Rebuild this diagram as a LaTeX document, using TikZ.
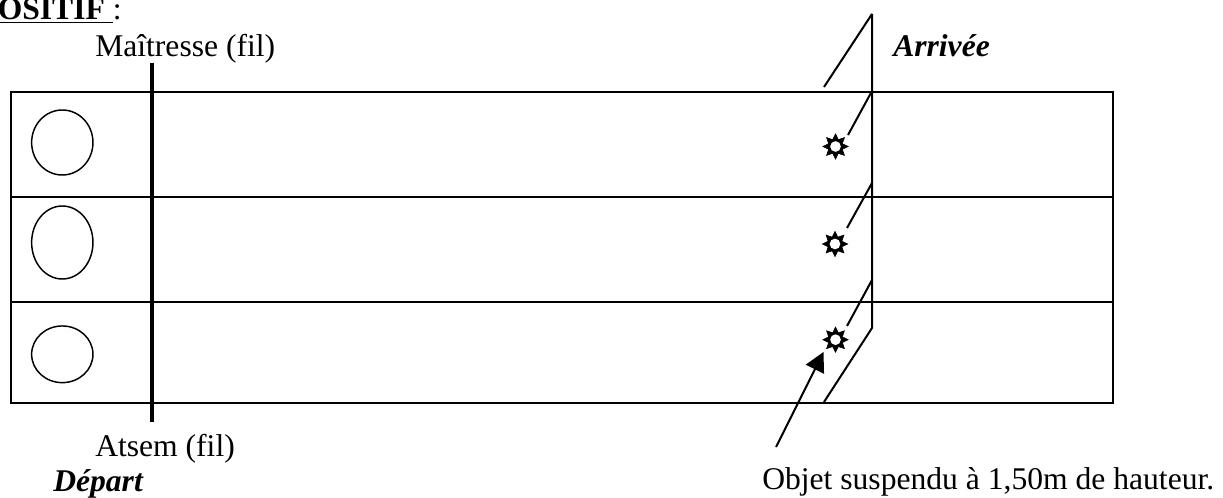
\documentclass[tikz,border=0pt]{standalone}
\usepackage{fontspec}
\setmainfont{Liberation Serif}
\usetikzlibrary{shapes.geometric, arrows.meta}

\begin{document}
\begin{tikzpicture}[
  x=0.75pt, y=-0.75pt,
  every node/.style={font=\fontsize{23.7}{28}\selectfont, inner sep=0pt},
  lane/.style={draw, line width=1.5pt, minimum width=826.5pt},
  plot/.style={draw, ellipse, line width=1.1pt, minimum width=46pt},
  sunmark/.style={star, star points=8, star point ratio=1.7, draw, line width=0.4pt, fill=black, minimum size=19pt},
  sunhole/.style={circle, fill=white, minimum size=8pt},
  wire/.style={line width=1.5pt},
  fil/.style={line width=2.8pt},
  pointer/.style={line width=1.5pt, -{Triangle[length=14.5pt, width=15pt]}}
]
\useasboundingbox (0,0) rectangle (1223,498);

% lanes
\node[lane, minimum height=78.75pt] (laneA) at (562,144.2) {};
\node[lane, minimum height=78.75pt] (laneB) at (562,249.2) {};
\node[lane, minimum height=75.75pt] (laneC) at (562,352.2) {};

% start circles
\node[plot, minimum height=48.75pt] (plotA) at (62.3,142.5) {};
\node[plot, minimum height=54.75pt] (plotB) at (62.3,242.5) {};
\node[plot, minimum height=42.5pt] (plotC) at (62.3,354.3) {};

% hanging objects
\foreach \name/\x/\y in {sunA/835.5/146.5, sunB/835/244, sunC/835.5/339.7} {
  \node[sunmark] (\name) at (\x,\y) {};
  \node[sunhole] at (\name) {};
}

% wires
\coordinate (filTop) at (152,63);
\coordinate (filBot) at (152,422);
\draw[fil] (filTop) -- (filBot);

\coordinate (postTop) at (872,14);
\coordinate (postBot) at (872,328);
\coordinate (gateA) at (824,87);
\coordinate (gateB) at (824,402);
\draw[wire] (postTop) -- (postBot) -- (gateB);
\draw[wire] (postTop) -- (gateA);

\draw[wire] (872,91) -- (848,135);
\draw[wire] (872,183) -- (847,228);
\draw[wire] (872,280) -- (847,326);

\coordinate (tipFoot) at (776,447);
\coordinate (tipHead) at (823.5,352);
\draw[pointer] (tipFoot) -- (tipHead);

% labels
\node[anchor=base west] (title) at (-2.5,20) {\underline{\textbf{OSITIF }}:};
\node[anchor=base west] (maitresse) at (95,57) {Maîtresse (fil)};
\node[anchor=base west] (arrivee) at (893,57) {\textbf{\textit{Arrivée}}};
\node[anchor=base west] (atsem) at (95,456) {Atsem (fil)};
\node[anchor=base west] (depart) at (53,491) {\textbf{\textit{Départ}}};
\node[anchor=base west] (objet) at (762,489) {Objet suspendu à 1,50m de hauteur.};

\end{tikzpicture}
\end{document}
